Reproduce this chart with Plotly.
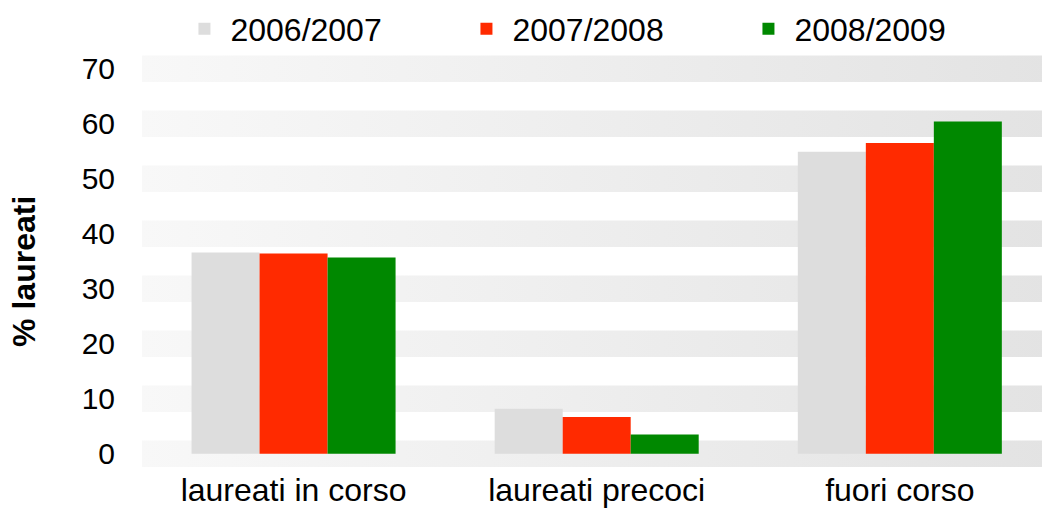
import plotly.graph_objects as go

categories = ["laureati in corso", "laureati precoci", "fuori corso"]
years = ["2006/2007", "2007/2008", "2008/2009"]
values_0607 = [36.6, 8.2, 54.9]
values_0708 = [36.4, 6.7, 56.5]
values_0809 = [35.7, 3.5, 60.4]
colors = ["#dddddd", "#ff2a00", "#008800"]
tick_vals = [0, 10, 20, 30, 40, 50, 60, 70]

series = [values_0607, values_0708, values_0809]
xpos = list(range(len(categories)))
y_range = [-2.4, 72.5]

fig = go.Figure()

# background bands around each tick value (on the base y axis, drawn below bars)
for v in tick_vals:
    fig.add_trace(go.Scatter(
        x=[-0.5, 2.5, 2.5, -0.5, -0.5],
        y=[v - 2.4, v - 2.4, v + 2.4, v + 2.4, v - 2.4],
        fill="toself", mode="none", showlegend=False, hoverinfo="skip",
        yaxis="y",
        fillgradient=dict(type="horizontal",
                          colorscale=[[0, "#f8f8f8"], [1, "#e3e3e3"]]),
    ))

for name, vals, col in zip(years, series, colors):
    fig.add_trace(go.Bar(x=xpos, y=vals, name=name, yaxis="y2",
                         marker=dict(color=col, line=dict(width=0))))

fig.update_layout(
    width=1042, height=508,
    margin=dict(l=142, r=0, t=55, b=41, autoexpand=False),
    paper_bgcolor="white", plot_bgcolor="white",
    barmode="group", bargap=0.327, bargroupgap=0,
    font=dict(family="Liberation Sans, Arial, sans-serif", color="#000000"),
    legend=dict(orientation="h", x=0.0405, y=1.13, xanchor="left", yanchor="top",
                font=dict(size=32), entrywidth=225, entrywidthmode="pixels",
                itemwidth=42, bgcolor="rgba(0,0,0,0)"),
    showlegend=True,
    xaxis=dict(range=[-0.5, 2.469], tickmode="array", tickvals=xpos,
               ticktext=categories, tickfont=dict(size=32), showgrid=False,
               zeroline=False, showline=False, ticks="", automargin=False,
               ticklabelstandoff=1),
    yaxis=dict(range=y_range, tickmode="array", tickvals=tick_vals,
               tickfont=dict(size=30), showgrid=False, zeroline=False,
               showline=False, ticks="", ticklabelstandoff=26, automargin=False),
    yaxis2=dict(range=y_range, overlaying="y", showticklabels=False, showgrid=False,
                zeroline=False, showline=False, ticks=""),
    annotations=[dict(text="<b>% laureati</b>", textangle=-90, showarrow=False,
                      xref="paper", yref="paper", x=(24 - 142) / 900, y=0.476,
                      xanchor="center", yanchor="middle", font=dict(size=32))],
)

fig.write_html("out.html", config={"displayModeBar": False},
               post_script="document.body.style.margin='0';")
